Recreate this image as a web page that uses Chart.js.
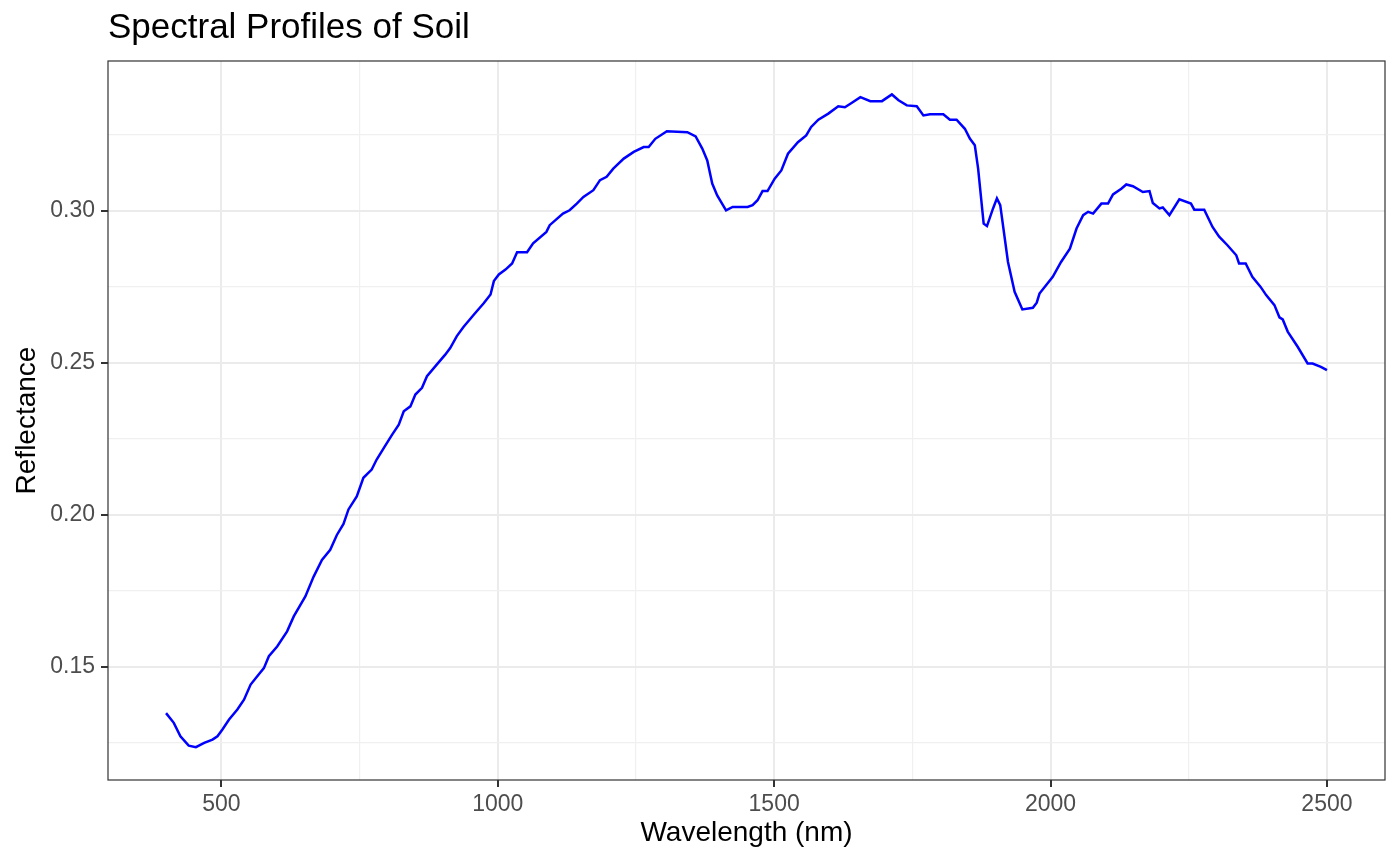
<!DOCTYPE html>
<html>
<head>
<meta charset="utf-8">
<script src="https://cdn.jsdelivr.net/npm/chart.js@4.4.1/dist/chart.umd.min.js"></script>
<style>
html,body{margin:0;padding:0;background:#ffffff;}
#wrap{width:1400px;height:865px;}
</style>
</head>
<body>
<div id="wrap"><canvas id="c" width="1400" height="865"></canvas></div>
<script>
const chartTitle = 'Spectral Profiles of Soil';
const xTitle = 'Wavelength (nm)';
const yTitle = 'Reflectance';

const wavelengths = [
  400,414,426,441,454,469,484,493,502,514,529,541,553,565,577,586,601,619,631,652,
  667,682,697,709,721,730,745,757,772,781,796,809,821,830,842,851,863,872,890,905,
  914,926,938,957,975,987,993,1002,1014,1026,1035,1053,1064,1088,1094,1118,1130,1143,1155,1173,
  1185,1197,1209,1228,1246,1264,1273,1285,1306,1343,1358,1370,1379,1388,1397,1413,1425,1452,1461,1470,
  1479,1488,1501,1513,1525,1543,1558,1567,1580,1598,1616,1628,1640,1656,1674,1695,1713,1725,1740,1758,
  1770,1782,1806,1818,1830,1845,1854,1863,1869,1879,1885,1896,1903,1909,1923,1935,1949,1968,1975,1980,
  2004,2019,2035,2047,2059,2068,2077,2092,2104,2113,2128,2137,2149,2167,2179,2185,2197,2203,2215,2233,
  2254,2260,2278,2293,2305,2320,2336,2341,2353,2365,2380,2390,2405,2414,2420,2429,2447,2465,2474,2489,
  2500
];

const reflectance = [
  0.1348,0.1316,0.1272,0.1241,0.1236,0.1250,0.1261,0.1272,0.1294,0.1327,0.1360,0.1392,0.1442,0.1469,0.1496,0.1535,0.1567,0.1617,0.1666,0.1732,
  0.1797,0.1852,0.1885,0.1934,0.1970,0.2018,0.2061,0.2122,0.2149,0.2182,0.2226,0.2264,0.2297,0.2341,0.2357,0.2396,0.2418,0.2456,0.2495,0.2527,
  0.2549,0.2588,0.2618,0.2659,0.2697,0.2725,0.2769,0.2791,0.2807,0.2827,0.2864,0.2864,0.2893,0.2931,0.2953,0.2991,0.3002,0.3024,0.3046,0.3068,
  0.3101,0.3112,0.3139,0.3172,0.3194,0.3210,0.3210,0.3237,0.3262,0.3259,0.3245,0.3205,0.3166,0.3090,0.3051,0.3002,0.3013,0.3013,0.3019,0.3035,
  0.3065,0.3065,0.3106,0.3133,0.3188,0.3226,0.3248,0.3276,0.3300,0.3320,0.3344,0.3341,0.3355,0.3374,0.3361,0.3361,0.3383,0.3364,0.3347,0.3344,
  0.3314,0.3318,0.3318,0.3300,0.3300,0.3270,0.3238,0.3216,0.3139,0.2958,0.2950,0.3008,0.3041,0.3019,0.2832,0.2734,0.2676,0.2681,0.2698,0.2728,
  0.2783,0.2832,0.2876,0.2942,0.2986,0.2997,0.2991,0.3024,0.3024,0.3054,0.3073,0.3087,0.3081,0.3062,0.3065,0.3026,0.3008,0.3011,0.2986,0.3038,
  0.3024,0.3004,0.3004,0.2947,0.2915,0.2887,0.2854,0.2827,0.2827,0.2783,0.2750,0.2723,0.2690,0.2650,0.2643,0.2603,0.2553,0.2498,0.2498,0.2487,
  0.2476
];

const xMajorTicks = [500, 1000, 1500, 2000, 2500];
const xMinorTicks = [750, 1250, 1750, 2250];
const yMajorTicks = [0.15, 0.20, 0.25, 0.30];
const yMinorTicks = [0.125, 0.175, 0.225, 0.275, 0.325];

const FONT = "'Liberation Sans', Arial, sans-serif";

function isIn(list, v) { return list.some(m => Math.abs(m - v) < 1e-9); }

const points = wavelengths.map((w, i) => ({ x: w, y: reflectance[i] }));

const panelBorder = {
  id: 'panelBorder',
  afterDatasetsDraw(chart) {
    const a = chart.chartArea;
    const ctx = chart.ctx;
    ctx.save();
    ctx.strokeStyle = '#333333';
    ctx.lineWidth = 1.2;
    ctx.strokeRect(a.left, a.top, a.right - a.left, a.bottom - a.top);
    ctx.restore();
  }
};

new Chart(document.getElementById('c'), {
  type: 'line',
  data: {
    datasets: [{
      data: points,
      borderColor: '#0000FF',
      borderWidth: 2.5,
      pointRadius: 0,
      tension: 0,
      fill: false
    }]
  },
  options: {
    responsive: false,
    animation: false,
    devicePixelRatio: 1,
    layout: { padding: { left: 0, right: 15, top: 0, bottom: 0 } },
    plugins: {
      legend: { display: false },
      tooltip: { enabled: false },
      title: {
        display: true,
        text: chartTitle,
        align: 'start',
        fullSize: false,
        color: '#000000',
        font: { family: FONT, size: 35, weight: 'normal', lineHeight: 1.2 },
        padding: { top: 7, bottom: 12 }
      }
    },
    scales: {
      x: {
        type: 'linear',
        min: 295,
        max: 2605,
        afterBuildTicks(scale) {
          scale.ticks = [...xMajorTicks, ...xMinorTicks].sort((a, b) => a - b).map(v => ({ value: v }));
        },
        afterFit(scale) { scale.height = 85; },
        border: { display: false },
        grid: {
          color: ctx => isIn(xMajorTicks, ctx.tick.value) ? '#EBEBEB' : '#F0F0F0',
          lineWidth: ctx => isIn(xMajorTicks, ctx.tick.value) ? 2 : 1.2,
          tickColor: ctx => isIn(xMajorTicks, ctx.tick.value) ? '#333333' : 'rgba(0,0,0,0)',
          tickWidth: 2,
          tickLength: 7
        },
        ticks: {
          autoSkip: false,
          maxRotation: 0,
          minRotation: 0,
          padding: 4,
          color: '#4D4D4D',
          font: { family: FONT, size: 23, lineHeight: 1.2 },
          callback: v => isIn(xMajorTicks, v) ? String(v) : ''
        },
        title: {
          display: true,
          text: xTitle,
          color: '#000000',
          font: { family: FONT, size: 28, lineHeight: 1.2 },
          padding: { top: 0, bottom: 15 }
        }
      },
      y: {
        type: 'linear',
        min: 0.1128,
        max: 0.3493,
        afterBuildTicks(scale) {
          scale.ticks = [...yMajorTicks, ...yMinorTicks].sort((a, b) => a - b).map(v => ({ value: v }));
        },
        afterFit(scale) { scale.width = 108; },
        border: { display: false },
        grid: {
          color: ctx => isIn(yMajorTicks, ctx.tick.value) ? '#EBEBEB' : '#F0F0F0',
          lineWidth: ctx => isIn(yMajorTicks, ctx.tick.value) ? 2 : 1.2,
          tickColor: ctx => isIn(yMajorTicks, ctx.tick.value) ? '#333333' : 'rgba(0,0,0,0)',
          tickWidth: 2,
          tickLength: 7
        },
        ticks: {
          autoSkip: false,
          padding: 6,
          color: '#4D4D4D',
          font: { family: FONT, size: 23, lineHeight: 1.2 },
          callback: v => isIn(yMajorTicks, v) ? v.toFixed(2) : ''
        },
        title: {
          display: true,
          text: yTitle,
          color: '#000000',
          font: { family: FONT, size: 28, lineHeight: 1.2 },
          padding: { top: 10, bottom: 0 }
        }
      }
    }
  },
  plugins: [panelBorder]
});
</script>
</body>
</html>
